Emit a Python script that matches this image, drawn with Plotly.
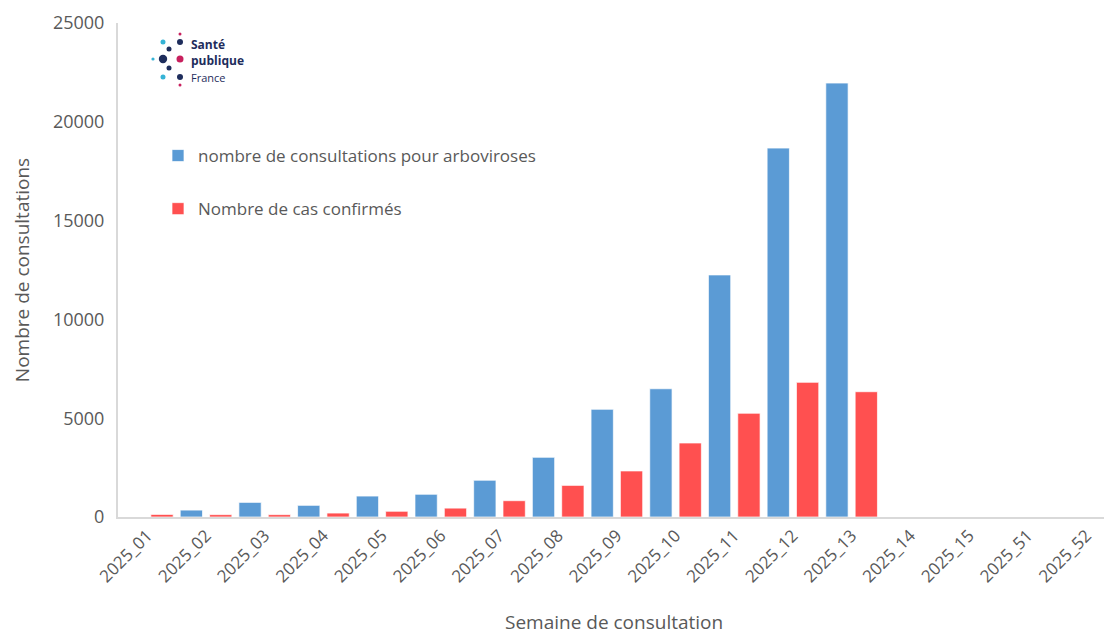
import plotly.graph_objects as go

weeks = ["2025_01", "2025_02", "2025_03", "2025_04", "2025_05", "2025_06", "2025_07",
         "2025_08", "2025_09", "2025_10", "2025_11", "2025_12", "2025_13", "2025_14",
         "2025_15", "2025_51", "2025_52"]
consultations = [0, 350, 740, 590, 1060, 1150, 1860, 3020, 5450, 6490, 12250, 18670, 21960,
                 None, None, None, None]
cas_confirmes = [130, 120, 120, 200, 290, 450, 825, 1600, 2330, 3745, 5250, 6815, 6340,
                 None, None, None, None]

BLUE = "#5B9BD5"
RED = "#FF5050"
GRAY = "#595959"
FONT = "Open Sans"

fig = go.Figure()
fig.add_trace(go.Bar(x=weeks, y=consultations, name="nombre de consultations pour arboviroses",
                     marker=dict(color=BLUE, line=dict(color="rgba(255,255,255,0.7)", width=1)),
                     legendgroup="a"))
fig.add_trace(go.Bar(x=weeks, y=cas_confirmes, name="Nombre de cas confirmés",
                     marker=dict(color=RED, line=dict(color="rgba(255,255,255,0.7)", width=1)),
                     legendgroup="b"))

W, H = 1106, 635
L, T, PW, PH = 118, 23, 986, 494


def px(xp):
    return (xp - L) / PW


def py(yp):
    return (T + PH - yp) / PH


shapes = []
dots = [
    (180, 34, 1.5, "#C8205E"), (180, 42, 3, "#1E2D5C"), (163, 42, 2.5, "#35B3D6"),
    (169, 49, 2.5, "#1E2D5C"), (163, 59, 4.2, "#1E2D5C"), (153, 59, 1.6, "#35B3D6"),
    (180, 59, 3.5, "#C8205E"), (169, 68, 2.5, "#1E2D5C"), (163, 77, 2.5, "#35B3D6"),
    (180, 77, 3, "#1E2D5C"), (180, 85, 1.5, "#C8205E"),
]
for (dx, dy, r, c) in dots:
    shapes.append(dict(type="circle", xref="paper", yref="paper", xsizemode="pixel",
                       ysizemode="pixel", xanchor=px(dx), yanchor=py(dy), x0=-r, x1=r,
                       y0=-r, y1=r, fillcolor=c, line=dict(width=0)))

annotations = [
    dict(text="<b>Santé</b>", x=px(189), y=py(45), xref="paper", yref="paper", xanchor="left",
         yanchor="middle", showarrow=False, font=dict(family=FONT, size=12, color="#1E2D5C")),
    dict(text="<b>publique</b>", x=px(189), y=py(61), xref="paper", yref="paper", xanchor="left",
         yanchor="middle", showarrow=False, font=dict(family=FONT, size=12, color="#1E2D5C")),
    dict(text="France", x=px(189), y=py(77), xref="paper", yref="paper", xanchor="left",
         yanchor="middle", showarrow=False, font=dict(family=FONT, size=11, color="#1E2D5C")),
    dict(text="Semaine de consultation", x=px(614), y=py(622), xref="paper", yref="paper",
         xanchor="center", yanchor="middle", showarrow=False, borderpad=0,
         font=dict(family=FONT, size=19, color=GRAY)),
]

fig.update_layout(
    width=W, height=H,
    margin=dict(l=L, r=W - L - PW, t=T, b=H - T - PH, autoexpand=False),
    paper_bgcolor="white", plot_bgcolor="white",
    font=dict(family=FONT, color=GRAY, size=16),
    barmode="group", bargap=0.0, bargroupgap=0.24,
    showlegend=True,
    legend=dict(x=px(158), y=py(138), xanchor="left", yanchor="top", bgcolor="rgba(0,0,0,0)",
                tracegroupgap=28, font=dict(family=FONT, size=17, color=GRAY),
                itemwidth=30),
    shapes=shapes,
    annotations=annotations,
)
fig.update_xaxes(
    type="category", categoryorder="array", categoryarray=weeks,
    range=[-0.5, 16.3],
    tickangle=-45, tickfont=dict(family=FONT, size=17, color=GRAY),
    showline=True, linecolor="#D9D9D9", linewidth=2, showgrid=False, ticks="",
    automargin=False,
)
fig.update_yaxes(
    range=[0, 25000], dtick=5000, tickformat="d",
    tickfont=dict(family=FONT, size=18, color=GRAY),
    showline=True, linecolor="#D9D9D9", linewidth=2, showgrid=False, ticks="",
    ticklabelstandoff=8, zeroline=False,
    title=dict(text="Nombre de consultations", standoff=18,
               font=dict(family=FONT, size=19, color=GRAY)),
    automargin=False,
)

fig.write_html(
    "out.html",
    config={"displayModeBar": False},
    post_script="document.body.style.margin='0';document.body.style.overflow='hidden';",
)
